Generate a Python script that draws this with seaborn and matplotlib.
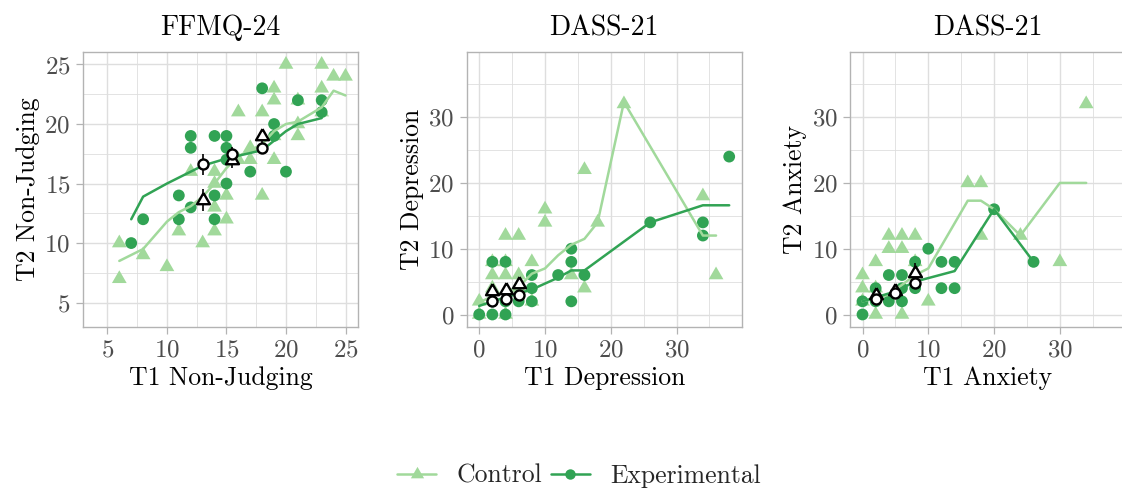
import matplotlib
matplotlib.use("Agg")
import matplotlib.pyplot as plt
from matplotlib.lines import Line2D
from matplotlib.ticker import MultipleLocator
import numpy as np
import pandas as pd
import seaborn as sns

# ---------------------------------------------------------------- data
groups = ["Control", "Experimental"]

# FFMQ-24 Non-Judging
nj_ctrl_t1 = [6, 6, 8, 10, 11, 12, 13, 14, 14, 14, 14, 15, 15, 16, 16, 17, 17,
              18, 18, 19, 19, 19, 19, 20, 21, 21, 21, 23, 23, 23, 24, 25]
nj_ctrl_t2 = [10, 7, 9, 8, 11, 16, 10, 11, 13, 15, 16, 12, 14, 21, 17, 18, 17,
              21, 14, 23, 22, 17, 19, 25, 22, 20, 19, 25, 23, 21, 24, 24]
nj_exp_t1 = [7, 8, 11, 11, 12, 12, 12, 14, 14, 14, 15, 15, 15, 15, 17, 18, 19,
             19, 20, 21, 23, 23]
nj_exp_t2 = [10, 12, 14, 12, 19, 18, 13, 19, 14, 12, 19, 18, 15, 17, 16, 23, 20,
             19, 16, 22, 22, 21]
nj_ctrl_fit_x = [6, 8, 10, 11, 12, 13, 14, 15, 16, 17, 18, 19, 20, 21, 22, 23, 24, 25]
nj_ctrl_fit_y = [8.5, 9.5, 11.8, 12.6, 13.1, 13.9, 15.0, 16.3, 17.3, 17.8, 18.3,
                 19.4, 20.0, 20.2, 20.8, 21.4, 22.8, 22.4]
nj_exp_fit_x = [7, 8, 10, 11, 13, 15, 18, 20, 21, 23]
nj_exp_fit_y = [12.0, 13.9, 15.0, 15.5, 16.5, 17.1, 17.8, 19.4, 20.0, 20.5]
nj_mean_t1 = [13, 15.5, 18]
nj_ctrl_mean = [13.6, 17.0, 19.0]
nj_ctrl_se = [0.9, 0.7, 0.5]
nj_exp_mean = [16.6, 17.5, 18.0]
nj_exp_se = [0.85, 0.6, 0.5]

# DASS-21 Depression
dep_ctrl_t1 = [0, 0, 2, 2, 2, 4, 4, 4, 4, 6, 6, 6, 8, 8, 10, 10, 14, 16, 16,
               18, 22, 34, 36]
dep_ctrl_t2 = [2, 0, 8, 6, 4, 12, 8, 6, 0, 12, 6, 4, 8, 2, 16, 14, 6, 22, 4,
               14, 32, 18, 6]
dep_exp_t1 = [0, 2, 4, 2, 4, 2, 4, 6, 8, 8, 8, 12, 14, 14, 14, 16, 26, 34, 34, 38]
dep_exp_t2 = [0, 0, 0, 8, 8, 2, 2, 2, 6, 4, 2, 6, 10, 8, 2, 6, 14, 14, 12, 24]
dep_ctrl_fit_x = [0, 2, 4, 6, 8, 10, 12, 14, 16, 18, 22, 34, 36]
dep_ctrl_fit_y = [1.8, 2.8, 3.5, 4.2, 6.2, 7.0, 9.0, 10.6, 11.5, 14.0, 32.3, 12.0, 12.0]
dep_exp_fit_x = [0, 2, 4, 6, 8, 12, 14, 16, 26, 34, 38]
dep_exp_fit_y = [1.3, 2.0, 2.6, 3.2, 3.8, 5.6, 6.7, 6.7, 14.0, 16.6, 16.6]
dep_mean_t1 = [2, 4, 6]
dep_ctrl_mean = [3.6, 3.7, 4.6]
dep_ctrl_se = [0.5, 0.5, 0.6]
dep_exp_mean = [2.0, 2.3, 2.9]
dep_exp_se = [0.4, 0.4, 0.5]

# DASS-21 Anxiety
anx_ctrl_t1 = [0, 0, 0, 2, 2, 2, 4, 4, 6, 6, 6, 8, 8, 10, 16, 18, 18, 24, 30, 34]
anx_ctrl_t2 = [6, 4, 2, 8, 0, 4, 12, 10, 12, 10, 0, 12, 8, 2, 20, 20, 12, 12, 8, 32]
anx_exp_t1 = [0, 0, 2, 2, 4, 4, 6, 6, 6, 8, 8, 10, 12, 12, 14, 14, 20, 26]
anx_exp_t2 = [0, 2, 4, 2, 6, 2, 6, 4, 2, 8, 4, 10, 8, 4, 8, 4, 16, 8]
anx_ctrl_fit_x = [0, 2, 4, 6, 8, 10, 16, 18, 20, 24, 30, 34]
anx_ctrl_fit_y = [2.0, 2.5, 3.0, 4.5, 6.0, 7.0, 17.3, 17.3, 16.0, 12.0, 20.0, 20.0]
anx_exp_fit_x = [0, 2, 5, 8, 14, 20, 26]
anx_exp_fit_y = [2.0, 2.6, 3.5, 5.0, 6.6, 16.0, 8.0]
anx_mean_t1 = [2, 5, 8]
anx_ctrl_mean = [3.0, 3.5, 6.3]
anx_ctrl_se = [0.6, 0.5, 1.5]
anx_exp_mean = [2.4, 3.2, 4.8]
anx_exp_se = [0.4, 0.5, 0.7]

titles = ["FFMQ-24", "DASS-21", "DASS-21"]
xlabels = ["T1 Non-Judging", "T1 Depression", "T1 Anxiety"]
ylabels = ["T2 Non-Judging", "T2 Depression", "T2 Anxiety"]

# ---------------------------------------------------------------- style
sns.set_theme(style="white")
plt.rcParams["font.family"] = ["cmr10", "DejaVu Serif"]
plt.rcParams["mathtext.fontset"] = "cm"
plt.rcParams["axes.formatter.use_mathtext"] = True

LIGHT = "#A1D99B"
DARK = "#31A354"
palette = {"Control": LIGHT, "Experimental": DARK}
GRID = "#DEDEDE"
BORDER = "#B3B3B3"

# equilateral triangle centred on its centroid
TRI = [(0.0, 1.0), (-0.866, -0.5), (0.866, -0.5), (0.0, 1.0)]
markers = {"Control": TRI, "Experimental": "o"}
S_TRI, S_CIRC = 150, 72


def long_points(ct1, ct2, et1, et2):
    return pd.DataFrame({
        "t1": list(ct1) + list(et1),
        "t2": list(ct2) + list(et2),
        "group": ["Control"] * len(ct1) + ["Experimental"] * len(et1),
    })


panels = [
    dict(pts=long_points(nj_ctrl_t1, nj_ctrl_t2, nj_exp_t1, nj_exp_t2),
         fits=long_points(nj_ctrl_fit_x, nj_ctrl_fit_y, nj_exp_fit_x, nj_exp_fit_y),
         mx=nj_mean_t1, cm=nj_ctrl_mean, cs=nj_ctrl_se, em=nj_exp_mean, es=nj_exp_se,
         lim=(2.95, 26.05), minor=2.5, ticks=[5, 10, 15, 20, 25]),
    dict(pts=long_points(dep_ctrl_t1, dep_ctrl_t2, dep_exp_t1, dep_exp_t2),
         fits=long_points(dep_ctrl_fit_x, dep_ctrl_fit_y, dep_exp_fit_x, dep_exp_fit_y),
         mx=dep_mean_t1, cm=dep_ctrl_mean, cs=dep_ctrl_se, em=dep_exp_mean, es=dep_exp_se,
         lim=(-1.9, 39.9), minor=5, ticks=[0, 10, 20, 30]),
    dict(pts=long_points(anx_ctrl_t1, anx_ctrl_t2, anx_exp_t1, anx_exp_t2),
         fits=long_points(anx_ctrl_fit_x, anx_ctrl_fit_y, anx_exp_fit_x, anx_exp_fit_y),
         mx=anx_mean_t1, cm=anx_ctrl_mean, cs=anx_ctrl_se, em=anx_exp_mean, es=anx_exp_se,
         lim=(-1.9, 39.9), minor=5, ticks=[0, 10, 20, 30]),
]

W, H = 1122, 491
fig = plt.figure(figsize=(W / 100, H / 100), dpi=100)
lefts = [83, 466.7, 850]
size = 275
top = 52

for i, (p, left) in enumerate(zip(panels, lefts)):
    ax = fig.add_axes([left / W, 1 - (top + size) / H, size / W, size / H])
    ax.set_facecolor("white")
    ax.set_axisbelow(True)

    sns.scatterplot(data=p["pts"], x="t1", y="t2", hue="group", style="group",
                    hue_order=groups, style_order=groups, palette=palette,
                    markers=markers, s=S_TRI, linewidth=0, alpha=1,
                    legend=False, ax=ax, zorder=2)
    # circles get a smaller area than triangles of the same visual weight
    coll = ax.collections[-1]
    is_ctrl = (p["pts"]["group"] == "Control").to_numpy()
    coll.set_sizes(np.where(is_ctrl, S_TRI, S_CIRC))

    sns.lineplot(data=p["fits"], x="t1", y="t2", hue="group", hue_order=groups,
                 palette=palette, estimator=None, sort=False, linewidth=1.8,
                 legend=False, ax=ax, zorder=3)

    ax.errorbar(p["mx"], p["cm"], yerr=p["cs"], fmt="none", ecolor="black",
                elinewidth=1.2, capsize=0, zorder=4)
    ax.errorbar(p["mx"], p["em"], yerr=p["es"], fmt="none", ecolor="black",
                elinewidth=1.2, capsize=0, zorder=4)
    ax.scatter(p["mx"], p["cm"], marker=TRI, s=115, facecolor="white",
               edgecolor="black", linewidth=1.7, zorder=5)
    ax.scatter(p["mx"], p["em"], marker="o", s=52, facecolor="white",
               edgecolor="black", linewidth=1.7, zorder=5)

    ax.set_xlim(p["lim"])
    ax.set_ylim(p["lim"])
    ax.set_xticks(p["ticks"])
    ax.set_yticks(p["ticks"])
    ax.xaxis.set_minor_locator(MultipleLocator(p["minor"]))
    ax.yaxis.set_minor_locator(MultipleLocator(p["minor"]))
    ax.grid(which="major", color=GRID, linewidth=1.0)
    ax.grid(which="minor", color=GRID, linewidth=0.6)
    ax.tick_params(which="major", length=5, width=0.9, color=BORDER,
                   labelsize=18, labelcolor="#4D4D4D", pad=4,
                   bottom=True, left=True)
    ax.tick_params(which="minor", length=0)
    for sp in ax.spines.values():
        sp.set_color(BORDER)
        sp.set_linewidth(1.0)

    ax.set_title(titles[i], fontsize=20, color="black", pad=12)
    ax.set_xlabel(xlabels[i], fontsize=18.5, color="black", labelpad=3)
    ax.set_ylabel(ylabels[i], fontsize=18.5, color="black", labelpad=3)

handles = [
    Line2D([], [], color=LIGHT, lw=1.8, marker=TRI, markersize=11,
           markeredgewidth=0, label="Control"),
    Line2D([], [], color=DARK, lw=1.8, marker="o", markersize=7.5,
           markeredgewidth=0, label="Experimental"),
]
fig.legend(handles=handles, loc="center", bbox_to_anchor=(579 / W, 1 - 476 / H),
           ncol=2, frameon=False, fontsize=18.5, handlelength=1.5,
           columnspacing=0.35, handletextpad=0.8)

fig.savefig("out.png", dpi=100)
